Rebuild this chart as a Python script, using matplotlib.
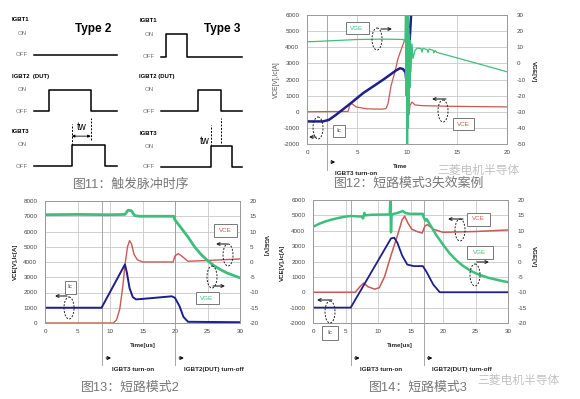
import matplotlib.pyplot as plt
from matplotlib.patches import Ellipse, Rectangle

plt.rcParams['font.family'] = ['Liberation Sans', 'Noto Sans CJK SC', 'DejaVu Sans']
plt.rcParams['axes.unicode_minus'] = False

W, H = 580, 399

# ---------------- data ----------------
# fig11: pulse (rise, fall) as fraction of the time axis
type2_names = ['IGBT1', 'IGBT2  (DUT)', 'IGBT3']
type2_pulses = [None, (0.17, 0.66), (0.44, 0.83)]
type3_names = ['IGBT1', 'IGBT2 (DUT)', 'IGBT3']
type3_pulses = [(0.06, 0.31), (0.44, 0.71), (0.60, 0.85)]
OFF, ON = 0.18, 0.74

# fig12
ic12_t = [0, 1.6, 2.2, 2.9, 3.6, 4.4, 5.6, 7.6, 8.9, 9.3, 9.6, 9.85, 10.0, 10.1, 10.3, 10.5]
ic12 = [-600, -600, -500, -190, 150, 540, 1150, 1980, 2560, 2700, 2650, 2450, 1500, 2500, 4800, 7000]
vce12_t = [0, 4.1, 4.3, 4.5, 4.9, 6.0, 7.5, 7.9, 8.1, 8.4, 8.8, 9.1, 9.5, 9.8, 9.9, 10.0,
           10.05, 10.1, 10.2, 10.3, 10.5, 10.8, 11.5, 14, 20]
vce12 = [0, 20, 450, 500, 300, 180, 160, 200, 500, 1600, 2500, 3300, 4000, 4500, 4500, 1500,
         -300, 500, -200, 400, 600, 420, 380, 340, 300]
vge12_t = [0, 1, 2, 3, 4, 5, 6, 7, 8, 9, 9.6, 9.8, 9.85, 9.9, 9.95, 10.0, 10.03, 10.06, 10.1,
           10.13, 10.17, 10.2, 10.25, 10.3, 10.35, 10.4, 10.5, 10.6, 10.8, 11.0, 11.4, 11.5,
           11.6, 12.0, 12.1, 12.2, 12.6, 12.7, 12.8, 13.0, 15, 17, 20]
vge12 = [13.4, 13.6, 13.9, 14.2, 14.5, 14.8, 14.9, 15.0, 15.0, 14.9, 14.8, 14.0, 35, -20, 32,
         -55, 25, -50, 30, -40, 22, -30, 18, -15, 14, -5, 12, 3, 8.0, 9.5, 9.2, 7.0,
         9.3, 8.6, 6.8, 8.9, 8.2, 6.5, 8.0, 6.8, 3.4, 0.0, -5.2]

# fig13
ic13_t = [0, 8.7, 12.3, 12.6, 13.0, 13.5, 14.0, 15.0, 19.5, 20.0, 20.7, 21.3, 22.0, 30]
ic13 = [1000, 1000, 3840, 3300, 2300, 1700, 1550, 1580, 1750, 1650, 1100, 400, 80, 50]
vce13_t = [0, 10.5, 11.0, 11.5, 12.0, 12.3, 12.7, 13.0, 13.3, 13.7, 14.2, 15.0, 19.7, 20.0,
           20.5, 21.0, 22.0, 25, 30]
vce13 = [0, 0, 200, 900, 2500, 3800, 5000, 5400, 5200, 4500, 4150, 4000, 4000, 4400, 4550,
         4400, 4050, 4100, 4200]
vge13_t = [0, 5, 10, 12.3, 12.8, 13.3, 13.8, 14.5, 19.8, 20.0, 21, 22, 23, 24, 25, 26, 27,
           28, 29, 30]
vge13 = [15.5, 15.6, 15.5, 15.6, 17.0, 16.8, 15.2, 15.0, 15.0, 13.8, 11.0, 8.2, 5.0, 2.5,
         0.5, -1.2, -2.5, -3.6, -4.4, -5.2]

# fig14
ic14_t = [0, 5.8, 12.0, 12.5, 13.0, 13.7, 14.5, 15.5, 16.9, 17.5, 18.5, 19.5, 30]
ic14 = [-1000, -1000, 3500, 3550, 3200, 2400, 1800, 1700, 1700, 1300, 500, 0, 0]
vce14_t = [0, 6.5, 7.3, 7.8, 8.5, 9.5, 10.2, 11, 12, 13, 13.7, 14.1, 14.6, 15.2, 16, 16.8,
           17.2, 17.6, 18.5, 20, 25, 30]
vce14 = [0, 0, 400, 600, 350, 200, 300, 1000, 2400, 3700, 4700, 4950, 4500, 4100, 3950, 3850,
         4300, 4400, 4100, 3900, 3950, 4050]
vge14_t = [0, 1, 2, 3, 4, 5, 5.8, 7.5, 7.7, 7.9, 8.1, 9, 11.8, 11.9, 12.0, 12.1, 13, 13.8,
           14.3, 15, 16.9, 17.0, 17.3, 17.5, 18, 19, 20, 21, 22, 23, 24, 25, 26, 27, 28, 29, 30]
vge14 = [11.3, 12.3, 13.1, 13.7, 14.2, 14.6, 14.8, 14.6, 14.0, 15.8, 15.0, 15.2, 15.3, 19.8,
         9.5, 15.3, 15.8, 16.4, 15.7, 15.5, 15.5, 14.5, 13.3, 13.8, 12.0, 8.5, 5.5, 2.7, 0.5,
         -1.3, -2.7, -3.8, -4.6, -5.3, -5.8, -6.3, -6.7]

GREEN, RED, BLUE = '#3dbf7c', '#c85a55', '#1e1e8c'
GRID = '#c9c9c9'

fig = plt.figure(figsize=(W / 100, H / 100), dpi=100)
fig.patch.set_facecolor('white')


def px_axes(l, t, r, b):
    return fig.add_axes([l / W, 1 - b / H, (r - l) / W, (b - t) / H])


# overlay in pixel coordinates for captions and annotations
ov = fig.add_axes([0, 0, 1, 1])
ov.set_xlim(0, W)
ov.set_ylim(H, 0)
ov.axis('off')
ov.set_zorder(20)
ov.patch.set_alpha(0)

# ---------------- fig11: timing diagrams ----------------
def timing(left, right, rows, names, pulses):
    axs = []
    for (top, bottom), name, pulse in zip(rows, names, pulses):
        a = px_axes(left, top, right, bottom)
        a.set_xlim(0, 1)
        a.set_ylim(0, 1)
        a.axis('off')
        arr = dict(arrowstyle='-|>', lw=1.0, color='k', mutation_scale=6, shrinkA=0, shrinkB=0)
        a.annotate('', xy=(0, 1.02), xytext=(0, 0), arrowprops=arr)
        a.annotate('', xy=(1.02, 0), xytext=(0, 0), arrowprops=arr)
        if pulse is None:
            xs, ys = [0, 0.97], [OFF, OFF]
        else:
            r, f = pulse
            xs = [0, r, r, f, f, 0.97]
            ys = [OFF, OFF, ON, ON, OFF, OFF]
        a.plot(xs, ys, color='k', lw=1.1, clip_on=False)
        a.text(-0.26, 1.1, name, fontsize=4.3, fontweight='bold', va='center', ha='left')
        a.text(-0.14, ON, 'ON', fontsize=4.5, color='#777', va='center', ha='center')
        a.text(-0.14, OFF, 'OFF', fontsize=4.5, color='#777', va='center', ha='center')
        axs.append(a)
    return axs


t2 = timing(34, 120, [(23, 62), (80, 118), (135, 173)], type2_names, type2_pulses)
t3 = timing(161, 245, [(24, 64), (80, 118), (137, 173)], type3_names, type3_pulses)

# tw markers, type 2
a = t2[2]
r3, f2 = type2_pulses[2][0], type2_pulses[1][1]
a.plot([r3, r3], [ON, 1.28], color='k', lw=0.7, ls=(0, (2, 1.5)), clip_on=False)
a.plot([f2, f2], [0.88, 1.45], color='k', lw=0.7, ls=(0, (2, 1.5)), clip_on=False)
a.annotate('', xy=(r3, 0.97), xytext=(f2, 0.97),
           arrowprops=dict(arrowstyle='<|-|>', lw=0.6, color='k', mutation_scale=4,
                           shrinkA=0, shrinkB=0))
a.text((r3 + f2) / 2, 1.2, 'tw', fontsize=7, ha='center', va='center')
# tw markers, type 3
a = t3[2]
r3, f2 = type3_pulses[2][0], type3_pulses[1][1]
a.plot([r3, r3], [ON, 1.33], color='k', lw=0.7, ls=(0, (2, 1.5)), clip_on=False)
a.plot([f2, f2], [0.83, 1.53], color='k', lw=0.7, ls=(0, (2, 1.5)), clip_on=False)
sarr = dict(arrowstyle='-|>', lw=0.6, color='k', mutation_scale=4, shrinkA=0, shrinkB=0)
a.annotate('', xy=(r3 - 0.01, 1.11), xytext=(r3 - 0.11, 1.11), arrowprops=sarr)
a.annotate('', xy=(f2 + 0.01, 1.11), xytext=(f2 + 0.14, 1.11), arrowprops=sarr)
a.text(r3 - 0.08, 0.9, 'tw', fontsize=7, ha='center', va='center')

ov.text(93, 29, 'Type 2', fontsize=8.5, fontweight='bold', ha='center', va='center')
ov.text(222, 29, 'Type 3', fontsize=8.5, fontweight='bold', ha='center', va='center')


# ---------------- waveform charts ----------------
def chart(box, xlim, xticks, ylim, yticks, y2lim, y2ticks, vge, ic, vce, lws, events, ext):
    ax = px_axes(*box)
    ax.set_xlim(*xlim)
    ax.set_ylim(*ylim)
    ax.set_xticks(xticks)
    ax.set_yticks(yticks)
    ax.grid(True, color=GRID, lw=0.6)
    ax.tick_params(length=0, labelsize=4.5, colors='#444', pad=5.5)
    ax.tick_params(axis='x', pad=4)
    for s in ax.spines.values():
        s.set_color('#999')
        s.set_linewidth(0.6)
    ax2 = ax.twinx()
    ax2.set_ylim(*y2lim)
    ax2.set_yticks(y2ticks)
    ax2.tick_params(length=0, labelsize=4.5, colors='#444', pad=7)
    for s in ax2.spines.values():
        s.set_color('#999')
        s.set_linewidth(0.6)
    ax.plot(*vce, color=RED, lw=lws[2], zorder=3)
    ax.plot(*ic, color=BLUE, lw=lws[1], zorder=4)
    ax2.plot(*vge, color=GREEN, lw=lws[0])
    trans = ax.get_xaxis_transform()
    for x, label, dx, adx in events:
        ax.plot([x, x], [ext[0], 1], transform=trans, color='#999', lw=0.6, clip_on=False)
        ax.annotate('', xy=(x + adx, ext[1]), xytext=(x + adx * 0.1, ext[1]), xycoords=trans,
                    arrowprops=dict(arrowstyle='->', lw=0.8, color='k', mutation_scale=5))
        ax.text(x + dx, ext[2], label, transform=trans, fontsize=4.5, fontweight='bold',
                ha='left', va='center', color='#222')
    return ax, ax2


chart((307, 15, 507, 144), (0, 20), [0, 5, 10, 15, 20], (-2000, 6000), range(-2000, 6001, 1000),
      (-50, 30), range(-50, 31, 10), (vge12_t, vge12), (ic12_t, ic12), (vce12_t, vce12),
      (0.9, 1.8, 0.9), [(2, 'IGBT3 turn-on', 0.8, 1.1)], (-0.2, -0.14, -0.225))
chart((45, 201, 240, 323), (0, 30), range(0, 31, 5), (0, 8000), range(0, 8001, 1000),
      (-20, 20), range(-20, 21, 5), (vge13_t, vge13), (ic13_t, ic13), (vce13_t, vce13),
      (2.0, 1.4, 1.0),
      [(8.8, 'IGBT3 turn-on', 1.5, 1.8), (20, 'IGBT2(DUT) turn-off', 1.4, 1.8)],
      (-0.344, -0.287, -0.385))
chart((313, 200, 508, 323), (0, 30), range(0, 31, 5), (-2000, 6000), range(-2000, 6001, 1000),
      (-20, 20), range(-20, 21, 5), (vge14_t, vge14), (ic14_t, ic14), (vce14_t, vce14),
      (1.8, 1.3, 1.1),
      [(5.8, 'IGBT3 turn-on', 1.4, 1.8), (17, 'IGBT2(DUT) turn-off', 1.3, 1.8)],
      (-0.341, -0.285, -0.382))

# axis labels
lab = dict(fontsize=4.5, fontweight='bold', ha='center', va='center', color='#222')
ov.text(276, 80, 'VCE[V],Ic[A]', rotation=90, fontsize=4.8, ha='center', va='center',
        color='#555')
ov.text(533, 72, 'VGE[V]', rotation=270, **lab)
ov.text(15, 262, 'VCE[V],Ic[A]', rotation=90, **lab)
ov.text(265, 246, 'VGE[V]', rotation=270, **lab)
ov.text(282, 263, 'VCE[V],Ic[A]', rotation=90, **lab)
ov.text(533, 257, 'VGE[V]', rotation=270, **lab)
ov.text(400, 166, 'Time', **lab)
ov.text(143, 345, 'Time[us]', **lab)
ov.text(400, 345, 'Time[us]', **lab)

# label boxes, dashed ellipses and arrows
boxes = [(357, 28, 23, 12, 'VGE', GREEN), (463, 124, 21, 12, 'VCE', RED),
         (339, 131, 12, 12, 'Ic', '#444'),
         (70, 287, 11, 13, 'Ic', '#444'), (225, 230, 23, 13, 'VCE', RED),
         (207, 298, 23, 12, 'VGE', GREEN),
         (478, 219, 23, 13, 'VCE', RED), (480, 252, 26, 13, 'VGE', GREEN),
         (330, 333, 16, 14, 'Ic', '#444')]
for cx, cy, w, h, txt, c in boxes:
    ov.add_patch(Rectangle((cx - w / 2, cy - h / 2), w, h, fc='white', ec='#777', lw=0.7))
    ov.text(cx, cy, txt, fontsize=4.5, color=c, ha='center', va='center')

ellipses = [(377, 39), (443, 111), (318, 128), (69, 308), (228, 255), (212, 277),
            (460, 230), (475, 275), (330, 312)]
for cx, cy in ellipses:
    ov.add_patch(Ellipse((cx, cy), 10, 22, fill=False, ec='#222', lw=0.7, ls=(0, (2, 1.5))))

arrows = [(381, 392, 29), (446, 432, 99), (316, 309, 137),
          (67, 55, 296), (227, 216, 244), (213, 225, 286),
          (463, 448, 219), (477, 489, 262), (332, 317, 300)]
for x0, x1, y in arrows:
    ov.annotate('', xy=(x1, y), xytext=(x0, y),
                arrowprops=dict(arrowstyle='->', lw=0.8, color='#222', mutation_scale=5,
                                shrinkA=0, shrinkB=0))

# captions and watermarks
cap = dict(fontsize=9.3, color='#777', ha='center', va='center')
ov.text(131, 185, '图11：触发脉冲时序', **cap)
ov.text(409, 184, '图12：短路模式3失效案例', **cap)
ov.text(130, 388, '图13：短路模式2', **cap)
ov.text(418, 388, '图14：短路模式3', **cap)
wm = dict(fontsize=8.5, color='#bbbbbb', alpha=0.9, ha='center', va='center')
ov.text(478, 171, '三菱电机半导体', **wm)
ov.text(518, 381, '三菱电机半导体', **wm)

fig.savefig('out.png', dpi=100)
